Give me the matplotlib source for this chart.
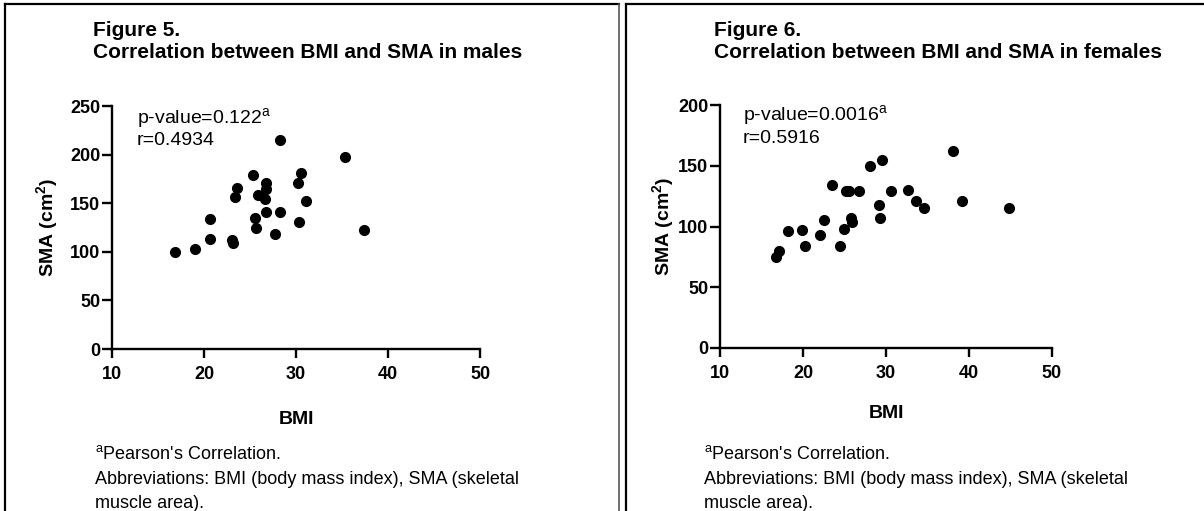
import matplotlib
matplotlib.use("Agg")
import matplotlib.pyplot as plt
from matplotlib.lines import Line2D

# data
male_bmi = [16.9, 19.0, 20.7, 20.7, 23.0, 23.1, 23.4, 23.6, 25.3, 25.5, 25.7, 25.9, 26.6,
            26.7, 26.7, 26.7, 27.7, 28.3, 28.3, 30.2, 30.5, 30.3, 31.1, 35.3, 37.4]
male_sma = [100, 103, 134, 113, 112, 109, 156, 166, 179, 135, 125, 158, 154,
            171, 165, 141, 118, 215, 141, 171, 181, 131, 152, 198, 122]

female_bmi = [16.75, 17.1, 18.2, 19.9, 20.2, 22.0, 22.5, 23.5, 24.5, 24.9, 25.2, 25.6, 25.8,
              25.9, 26.8, 28.1, 29.2, 29.3, 29.5, 30.6, 32.7, 33.6, 34.6, 38.1, 39.1, 44.8]
female_sma = [75, 80, 96, 97, 84, 93, 105, 134, 84, 98, 129, 129, 107,
              104, 129, 150, 118, 107, 155, 129, 130, 121, 115, 162, 121, 115]

titles = ["Figure 5.\nCorrelation between BMI and SMA in males",
          "Figure 6.\nCorrelation between BMI and SMA in females"]
p_values = ["0.122", "0.0016"]
r_values = ["0.4934", "0.5916"]
x_ticks = [10, 20, 30, 40, 50]
y_ticks_male = [0, 50, 100, 150, 200, 250]
y_ticks_female = [0, 50, 100, 150, 200]

plt.rcParams['font.family'] = ['Liberation Sans', 'DejaVu Sans']
plt.rcParams['mathtext.fontset'] = 'custom'
plt.rcParams['mathtext.rm'] = 'Liberation Sans'
plt.rcParams['mathtext.it'] = 'Liberation Sans:italic'
plt.rcParams['mathtext.bf'] = 'Liberation Sans:bold'

W, H = 1204, 511
fig = plt.figure(figsize=(W / 100, H / 100), dpi=100)


def fx(x):
    return x / W


def fy(y):
    return 1 - y / H


def line(xs, ys, color='black', lw=1.6):
    fig.add_artist(Line2D([fx(v) for v in xs], [fy(v) for v in ys],
                          transform=fig.transFigure, color=color, lw=lw))


# panel frames
line([5, 5], [4.5, 511])
line([5, 619], [4.5, 4.5])
line([619, 619], [4.5, 511], color='#555555', lw=1.2)
line([626, 626], [4.5, 511])
line([626, 1204], [4.5, 4.5])

panels = [
    dict(bmi=male_bmi, sma=male_sma, yticks=y_ticks_male, ax_px=(112, 480, 106, 349),
         text_x=93, ann_x=137, ann_y=(123, 145), ylab_x=47, foot_x=95),
    dict(bmi=female_bmi, sma=female_sma, yticks=y_ticks_female, ax_px=(720, 1052, 105, 348),
         text_x=714, ann_x=743, ann_y=(120, 142.5), ylab_x=663, foot_x=704),
]

for i, p in enumerate(panels):
    x0, x1, y0, y1 = p['ax_px']
    ax = fig.add_axes([fx(x0), fy(y1), (x1 - x0) / W, (y1 - y0) / H])
    ax.plot(p['bmi'], p['sma'], 'o', color='black', markersize=7, clip_on=False)
    ax.set_xlim(x_ticks[0], x_ticks[-1])
    ax.set_ylim(p['yticks'][0], p['yticks'][-1])
    ax.set_xticks(x_ticks)
    ax.set_yticks(p['yticks'])
    for side in ['top', 'right']:
        ax.spines[side].set_visible(False)
    for side in ['left', 'bottom']:
        ax.spines[side].set_linewidth(1.7)
    ax.tick_params(axis='both', width=1.7, labelsize=13)
    ax.tick_params(axis='x', length=6.5, pad=6)
    ax.tick_params(axis='y', length=7, pad=1.5)
    for lab in ax.get_xticklabels() + ax.get_yticklabels():
        lab.set_fontweight('bold')

    # axis labels
    fig.text(fx((x0 + x1) / 2), fy(419 if i == 0 else 414), "BMI", fontsize=14,
             fontweight='bold', ha='center', va='center')
    fig.text(fx(p['ylab_x']), fy((y0 + y1) / 2), r"SMA (cm$^{\mathbf{2}}$)", fontsize=14,
             fontweight='bold', rotation=90, ha='center', va='center')

    # title
    t1, t2 = titles[i].split("\n")
    fig.text(fx(p['text_x']), fy(36.5), t1, fontsize=15, fontweight='bold', va='baseline')
    fig.text(fx(p['text_x']), fy(58), t2, fontsize=15, fontweight='bold', va='baseline')

    # statistics
    fig.text(fx(p['ann_x']), fy(p['ann_y'][0]), r"p-value=" + p_values[i] + r"$^{\mathrm{a}}$",
             fontsize=14, va='baseline')
    fig.text(fx(p['ann_x']), fy(p['ann_y'][1]), "r=" + r_values[i], fontsize=14, va='baseline')

    # footnote
    fig.text(fx(p['foot_x']), fy(459), r"$^{\mathrm{a}}$Pearson's Correlation.",
             fontsize=13, va='baseline')
    fig.text(fx(p['foot_x']), fy(484), "Abbreviations: BMI (body mass index), SMA (skeletal",
             fontsize=13, va='baseline')
    fig.text(fx(p['foot_x']), fy(508), "muscle area).", fontsize=13, va='baseline')

fig.savefig("out.png", dpi=100)
